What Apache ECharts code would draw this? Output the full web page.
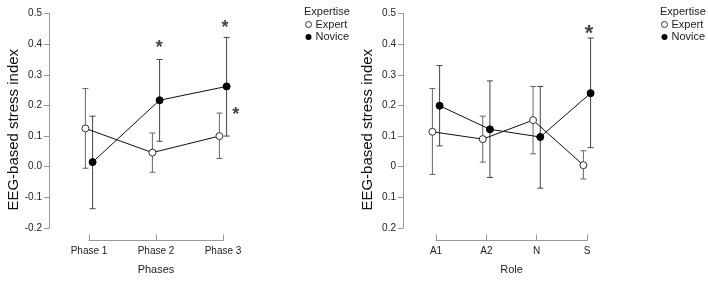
<!DOCTYPE html>
<html>
<head>
<meta charset="utf-8">
<script src="https://cdn.jsdelivr.net/npm/echarts@6/dist/echarts.min.js"></script>
<style>html,body{margin:0;padding:0;background:#fff;}#c{width:708px;height:281px;}</style>
</head>
<body>
<div id="c"></div>
<script>
// ---- Data ----
const phaseCats = ['Phase 1', 'Phase 2', 'Phase 3'];
const phaseExpert = [0.125, 0.046, 0.100];
const phaseExpertLo = [-0.005, -0.018, 0.027];
const phaseExpertHi = [0.255, 0.110, 0.175];
const phaseNovice = [0.015, 0.217, 0.262];
const phaseNoviceLo = [-0.137, 0.083, 0.100];
const phaseNoviceHi = [0.165, 0.350, 0.422];
const phaseSig = [[1.05, 0.400], [2.03, 0.467], [2.19, 0.180]];

const roleCats = ['A1', 'A2', 'N', 'S'];
const roleExpert = [0.114, 0.090, 0.152, 0.005];
const roleExpertLo = [-0.025, 0.015, 0.042, -0.040];
const roleExpertHi = [0.255, 0.165, 0.262, 0.052];
const roleNovice = [0.199, 0.122, 0.097, 0.240];
const roleNoviceLo = [0.068, -0.035, -0.070, 0.062];
const roleNoviceHi = [0.330, 0.280, 0.262, 0.420];
const roleSig = [[3.04, 0.448]];

const leftYLabels = ['-0.2', '-0.1', '0.0', '0.1', '0.2', '0.3', '0.4', '0.5'];
const rightYLabels = ['0.2', '0.1', '0', '0.1', '0.2', '0.3', '0.4', '0.5'];
const yMin = -0.2, yMax = 0.5, yStep = 0.1;

// ---- Layout ----
const FONT = 'Liberation Sans, Arial, sans-serif';
const W = 708, H = 281;
const panels = [
  { cats: phaseCats, ex: phaseExpert, exLo: phaseExpertLo, exHi: phaseExpertHi,
    nv: phaseNovice, nvLo: phaseNoviceLo, nvHi: phaseNoviceHi, sig: phaseSig, sigSize: 18,
    yLabels: leftYLabels, xName: 'Phases', axisX: 49, left: 89, right: 223, legendX: 304 },
  { cats: roleCats, ex: roleExpert, exLo: roleExpertLo, exHi: roleExpertHi,
    nv: roleNovice, nvLo: roleNoviceLo, nvHi: roleNoviceHi, sig: roleSig, sigSize: 22,
    yLabels: rightYLabels, xName: 'Role', axisX: 403, left: 436, right: 587, legendX: 660 }
];
const plotTop = 13.5, plotBottom = 228;
const dodgePx = 3.6;

const grid = [], xAxis = [], yAxis = [], series = [], title = [], legend = [];

function errSeries(name, gi, xs, lo, hi, color) {
  return {
    type: 'custom', name: name + ' err', xAxisIndex: gi, yAxisIndex: gi, clip: false, z: 1,
    data: xs.map((x, i) => [x, lo[i], hi[i]]),
    renderItem: function (params, api) {
      const x = api.value(0);
      const a = api.coord([x, api.value(1)]);
      const b = api.coord([x, api.value(2)]);
      const st = { stroke: color, lineWidth: 1 };
      const cw = 3;
      return { type: 'group', children: [
        { type: 'line', shape: { x1: a[0], y1: a[1], x2: b[0], y2: b[1] }, style: st },
        { type: 'line', shape: { x1: a[0] - cw, y1: a[1], x2: a[0] + cw, y2: a[1] }, style: st },
        { type: 'line', shape: { x1: b[0] - cw, y1: b[1], x2: b[0] + cw, y2: b[1] }, style: st }
      ]};
    }
  };
}

panels.forEach((p, gi) => {
  const n = p.cats.length;
  const unit = (p.right - p.left) / (n - 1);
  const d = dodgePx / unit;
  grid.push({ left: p.left, right: W - p.right, top: plotTop, bottom: H - plotBottom, containLabel: false });
  xAxis.push({
    type: 'value', gridIndex: gi, min: 0, max: n - 1, interval: 1, offset: 12.5,
    name: p.xName, nameLocation: 'middle', nameGap: 24,
    nameTextStyle: { fontSize: 11, color: '#222', fontFamily: FONT },
    axisLine: { show: true, onZero: false, lineStyle: { color: '#999', width: 1 } },
    axisTick: { show: true, inside: true, length: 6, lineStyle: { color: '#999' } },
    axisLabel: { fontSize: 10, color: '#222', margin: 6, fontFamily: FONT,
      formatter: v => p.cats[Math.round(v)] || '' },
    splitLine: { show: false }
  });
  yAxis.push({
    type: 'value', gridIndex: gi, min: yMin, max: yMax, interval: yStep,
    offset: p.left - p.axisX,
    name: 'EEG-based stress index', nameLocation: 'middle', nameGap: 28,
    nameTextStyle: { fontSize: 15, color: '#111', fontFamily: FONT, padding: [0, 18, 0, 0] },
    axisLine: { show: true, onZero: false, lineStyle: { color: '#999', width: 1 } },
    axisTick: { show: true, inside: false, length: 5, lineStyle: { color: '#999' } },
    axisLabel: { fontSize: 10, color: '#222', margin: 7, fontFamily: FONT,
      formatter: v => p.yLabels[Math.round((v - yMin) / yStep)] },
    splitLine: { show: false }
  });
  const xsE = p.cats.map((c, i) => i - d);
  const xsN = p.cats.map((c, i) => i + d);
  series.push(errSeries('Expert', gi, xsE, p.exLo, p.exHi, '#666'));
  series.push(errSeries('Novice', gi, xsN, p.nvLo, p.nvHi, '#444'));
  series.push({
    type: 'line', name: 'Expert', xAxisIndex: gi, yAxisIndex: gi, clip: false, z: 3,
    data: xsE.map((x, i) => [x, p.ex[i]]),
    symbol: 'circle', symbolSize: 7,
    lineStyle: { color: '#111', width: 1 },
    itemStyle: { color: '#fff', borderColor: '#333', borderWidth: 1 },
    emphasis: { disabled: true }
  });
  series.push({
    type: 'line', name: 'Novice', xAxisIndex: gi, yAxisIndex: gi, clip: false, z: 3,
    data: xsN.map((x, i) => [x, p.nv[i]]),
    symbol: 'circle', symbolSize: 7,
    lineStyle: { color: '#111', width: 1 },
    itemStyle: { color: '#000', borderColor: '#000', borderWidth: 1 },
    emphasis: { disabled: true }
  });
  series.push({
    type: 'scatter', name: 'sig', xAxisIndex: gi, yAxisIndex: gi, clip: false, z: 4,
    data: p.sig, symbolSize: 1, itemStyle: { color: 'rgba(0,0,0,0)' },
    label: { show: true, position: 'inside', formatter: '*', fontSize: p.sigSize,
      fontWeight: 'bold', color: '#111', fontFamily: FONT, offset: [0, p.sigSize * 0.22] },
    emphasis: { disabled: true }
  });
  title.push({ text: 'Expertise', left: p.legendX, top: 6, padding: 0,
    textStyle: { fontSize: 11, fontWeight: 'normal', color: '#222', fontFamily: FONT } });
  legend.push({
    orient: 'vertical', left: p.legendX + 1, top: 19, padding: 0, itemGap: 1.5,
    itemWidth: 6, itemHeight: 6, icon: 'circle', selectedMode: false,
    textStyle: { fontSize: 11, color: '#222', fontFamily: FONT, padding: [0, 0, 0, -1] },
    data: [
      { name: 'Expert', itemStyle: { color: '#fff', borderColor: '#333', borderWidth: 1 } },
      { name: 'Novice', itemStyle: { color: '#000', borderColor: '#000', borderWidth: 0 } }
    ]
  });
});

const chart = echarts.init(document.getElementById('c'), null, { renderer: 'canvas' });
chart.setOption({
  animation: false,
  backgroundColor: '#fff',
  textStyle: { fontFamily: FONT },
  title: title, legend: legend, grid: grid, xAxis: xAxis, yAxis: yAxis, series: series
});
</script>
</body>
</html>
